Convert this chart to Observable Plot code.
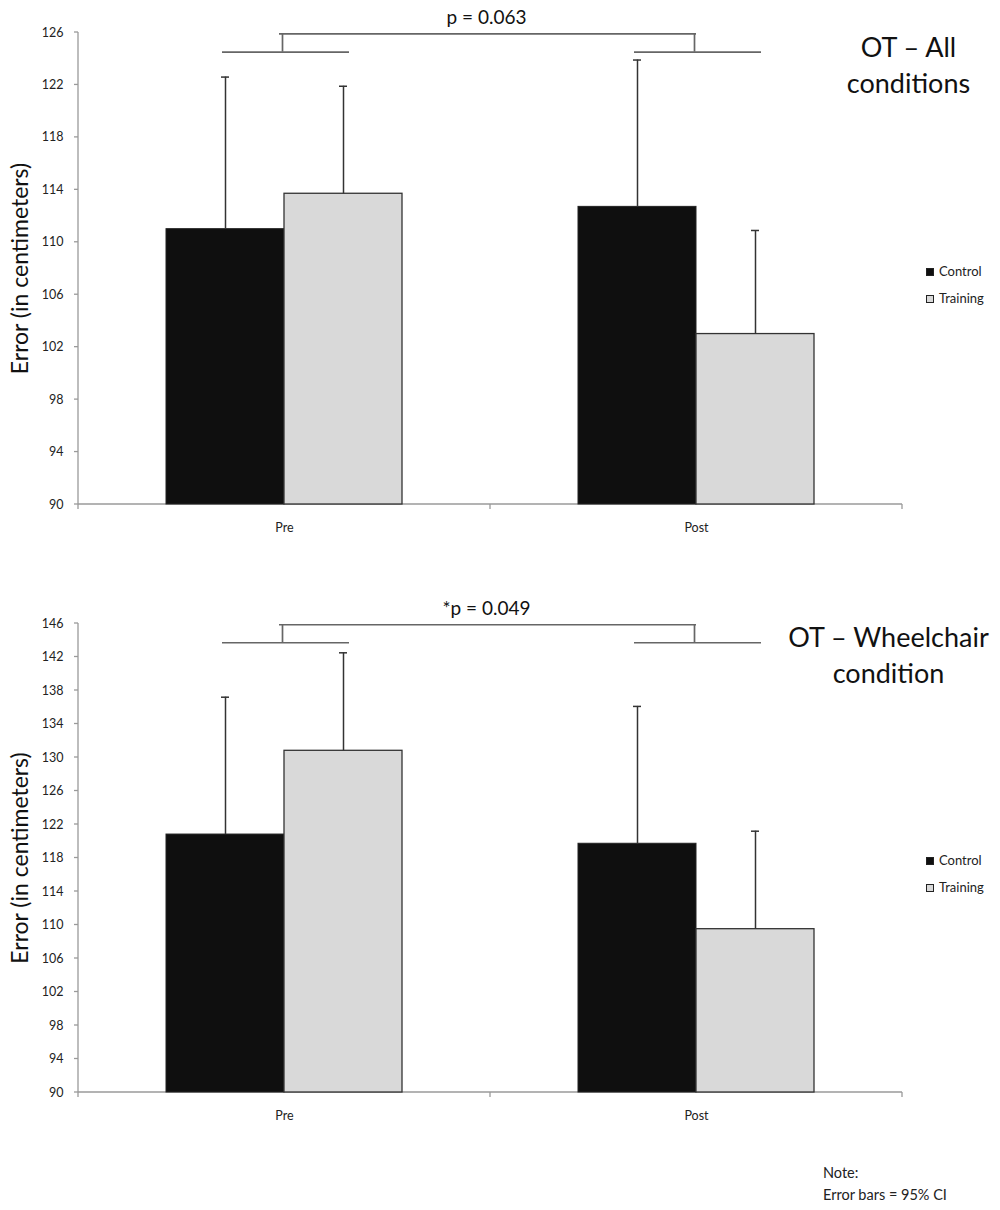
<!DOCTYPE html>
<html><head><meta charset="utf-8">
<script src="https://cdn.jsdelivr.net/npm/d3@7"></script>
<script src="https://cdn.jsdelivr.net/npm/@observablehq/plot@0.6"></script>
<style>
body{margin:0;background:#fff;font-family:Lato,sans-serif;}
#root{position:relative;width:1000px;height:1210px;overflow:hidden;}
.panel{position:absolute;left:0;}
.lg{position:absolute;left:926px;display:flex;align-items:center;font-size:13px;color:#222;line-height:13px;}
.sw{width:8px;height:8px;box-sizing:border-box;border:1px solid #222;margin-right:5px;}
.note{position:absolute;left:823px;top:1162px;font-size:14.5px;line-height:22px;color:#222;}
</style></head><body><div id="root"></div>
<script>
// ---- data ----
const times = ["Pre", "Post"];
const groups = ["Control", "Training"];
const groupColors = ["#0f0f0f", "#d9d9d9"];

// OT – All conditions
const allControl = [111.0, 112.7];
const allTraining = [113.7, 103.0];
const allControlUpper = [122.6, 123.9];
const allTrainingUpper = [121.9, 110.9];
const allTicks = [90, 94, 98, 102, 106, 110, 114, 118, 122, 126];
const allBracket = [125.9, 124.5]; // [top line, lower lines]
const allP = "p = 0.063";
const allTitle = "OT – All\nconditions";

// OT – Wheelchair condition
const wheelControl = [120.8, 119.7];
const wheelTraining = [130.8, 109.5];
const wheelControlUpper = [137.2, 136.1];
const wheelTrainingUpper = [142.5, 121.2];
const wheelTicks = [90, 94, 98, 102, 106, 110, 114, 118, 122, 126, 130, 134, 138, 142, 146];
const wheelBracket = [145.85, 143.7];
const wheelP = "*p = 0.049";
const wheelTitle = "OT – Wheelchair\ncondition";

const yLabel = "Error (in centimeters)";
const noteLines = ["Note:", "Error bars = 95% CI"];

// ---- layout ----
const W = 1000, ML = 78, MR = 98;
const BW = (W - ML - MR) / times.length; // band width
const BAR = 118, GAP = (BW - 2 * BAR) / 2;
const CAP = 8;

function rowsOf(ctrl, trn, ctrlU, trnU) {
  const out = [];
  times.forEach((t, i) => {
    out.push({time: t, group: groups[0], value: ctrl[i], upper: ctrlU[i]});
    out.push({time: t, group: groups[1], value: trn[i], upper: trnU[i]});
  });
  return out;
}

function axisFrame(ticks) {
  return (index, scales, values, dims) => {
    const {x, y} = scales;
    const g = d3.create("svg:g").attr("stroke", "#9a9a9a").attr("stroke-width", 1.3).attr("fill", "none");
    const y0 = dims.height - dims.marginBottom;
    g.append("line").attr("x1", dims.marginLeft).attr("x2", dims.marginLeft)
      .attr("y1", dims.marginTop).attr("y2", y0 + 5);
    g.append("line").attr("x1", dims.marginLeft).attr("x2", dims.width - dims.marginRight)
      .attr("y1", y0).attr("y2", y0);
    for (const t of ticks) {
      g.append("line").attr("x1", dims.marginLeft - 4).attr("x2", dims.marginLeft)
        .attr("y1", y(t)).attr("y2", y(t));
    }
    for (const t of times) {
      const xe = x(t) + x.bandwidth();
      g.append("line").attr("x1", xe).attr("x2", xe).attr("y1", y0).attr("y2", y0 + 5);
    }
    return g.node();
  };
}

function panel({rows, ticks, bracket, pText, title, height, marginTop, marginBottom, titleDx, titleDy}) {
  const ctrl = rows.filter(d => d.group === groups[0]);
  const trn = rows.filter(d => d.group === groups[1]);
  const base = ticks[0];
  const cOff = GAP + BAR / 2;          // control center from band start
  const tOff = GAP + BAR + BAR / 2;    // training center from band start
  return Plot.plot({
    width: W, height, marginLeft: ML, marginRight: MR, marginTop, marginBottom,
    style: {fontFamily: "Lato, sans-serif", background: "white", overflow: "visible"},
    x: {domain: times, padding: 0},
    y: {domain: [ticks[0], ticks[ticks.length - 1]]},
    marks: [
      Plot.axisY({ticks, tickSize: 0, tickPadding: 15, fontSize: 12.5, color: "#222", label: null}),
      Plot.axisX({tickSize: 0, tickPadding: 19, fontSize: 12.5, color: "#222", label: null}),
      axisFrame(ticks),
      Plot.barY(ctrl, {x: "time", y1: () => base, y2: "value", fill: groupColors[0], stroke: "#222", strokeWidth: 1,
        insetLeft: GAP, insetRight: BW - GAP - BAR}),
      Plot.barY(trn, {x: "time", y1: () => base, y2: "value", fill: groupColors[1], stroke: "#333", strokeWidth: 1.3,
        insetLeft: GAP + BAR, insetRight: GAP}),
      Plot.ruleX(ctrl, {x: "time", y1: "value", y2: "upper", dx: cOff - BW / 2, stroke: "#333", strokeWidth: 1.5}),
      Plot.ruleX(trn, {x: "time", y1: "value", y2: "upper", dx: tOff - BW / 2, stroke: "#333", strokeWidth: 1.5}),
      Plot.ruleY(ctrl, {x1: "time", x2: "time", y: "upper", insetLeft: cOff - CAP / 2, insetRight: BW - cOff - CAP / 2, stroke: "#333", strokeWidth: 1.5}),
      Plot.ruleY(trn, {x1: "time", x2: "time", y: "upper", insetLeft: tOff - CAP / 2, insetRight: BW - tOff - CAP / 2, stroke: "#333", strokeWidth: 1.5}),
      // significance bracket
      Plot.ruleY([bracket[0]], {y: d => d, x1: () => times[0], x2: () => times[1], insetLeft: 201, insetRight: 206, stroke: "#666", strokeWidth: 1.7}),
      Plot.ruleX(times, {x: d => d, y1: () => bracket[1], y2: () => bracket[0], dx: -2, stroke: "#666", strokeWidth: 1.7}),
      Plot.ruleY(times, {x1: d => d, x2: d => d, y: () => bracket[1], insetLeft: 144, insetRight: 141, stroke: "#666", strokeWidth: 1.7}),
      Plot.text([pText], {text: d => d, y: () => bracket[0], dy: -16, dx: -4, fontSize: 19, fill: "#111", lineAnchor: "middle"}),
      Plot.text([title], {text: d => d, frameAnchor: "top-right", dx: titleDx, dy: titleDy, textAnchor: "middle", lineAnchor: "top",
        fontSize: 27, lineHeight: 1.33, fill: "#111"}),
      Plot.text([yLabel], {text: d => d, frameAnchor: "left", rotate: -90, dx: -58, fontSize: 23, fill: "#111", textAnchor: "middle"})
    ]
  });
}

const root = document.getElementById("root");
function place(el, top) {
  const d = document.createElement("div");
  d.className = "panel"; d.style.top = top + "px";
  d.appendChild(el); root.appendChild(d);
}
function legend(tops) {
  groups.forEach((g, i) => {
    const it = document.createElement("div");
    it.className = "lg"; it.style.top = tops[i] + "px";
    const sw = document.createElement("span");
    sw.className = "sw"; sw.style.background = groupColors[i];
    it.appendChild(sw);
    it.appendChild(document.createTextNode(g));
    root.appendChild(it);
  });
}

place(panel({rows: rowsOf(allControl, allTraining, allControlUpper, allTrainingUpper), ticks: allTicks,
  bracket: allBracket, pText: allP, title: allTitle, height: 560, marginTop: 32, marginBottom: 56, titleDx: 6, titleDy: -1}), 0);
place(panel({rows: rowsOf(wheelControl, wheelTraining, wheelControlUpper, wheelTrainingUpper), ticks: wheelTicks,
  bracket: wheelBracket, pText: wheelP, title: wheelTitle, height: 560, marginTop: 38, marginBottom: 53, titleDx: -14, titleDy: -2}), 585);
legend([265, 292]);
legend([854, 881]);
const note = document.createElement("div");
note.className = "note";
note.innerHTML = noteLines.join("<br>");
root.appendChild(note);
</script></body></html>
